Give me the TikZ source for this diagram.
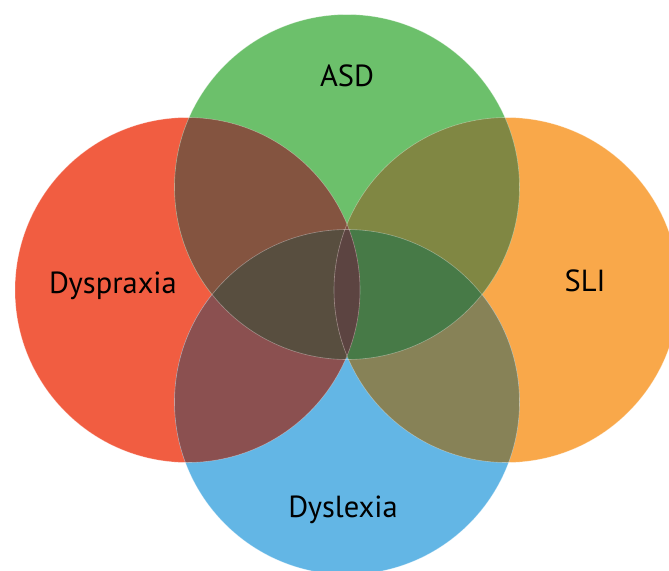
\documentclass[tikz,border=0pt]{standalone}
\usepackage{fontspec}
\setmainfont{PT Sans}
\usetikzlibrary{positioning}

\definecolor{dysred}{HTML}{F15D41}
\definecolor{asdgreen}{HTML}{6CC06B}
\definecolor{sliorange}{HTML}{F9A84A}
\definecolor{dlxblue}{HTML}{63B6E5}
\definecolor{redgreen}{HTML}{845440}
\definecolor{greenorange}{HTML}{808743}
\definecolor{redblue}{HTML}{8B5050}
\definecolor{orangeblue}{HTML}{878257}
\definecolor{redorange}{HTML}{7A4A3C}
\definecolor{redgreenblue}{HTML}{584E3F}
\definecolor{greenorangeblue}{HTML}{477A47}
\definecolor{redgreenorange}{HTML}{7C4B3C}
\definecolor{redorangeblue}{HTML}{7E4A48}
\definecolor{allfour}{HTML}{5C4441}

\begin{document}
\begin{tikzpicture}[x=1pt, y=-1pt,
    ring/.style={draw=white, draw opacity=0.35, line width=0.6pt},
    vname/.style={font=\fontsize{30.5}{32}\selectfont, anchor=base, inner sep=0pt}
]
\useasboundingbox (0,0) rectangle (669,570);
\clip (0,0) rectangle (669,570);

% centres of the four sets
\coordinate (cDys) at (187.5,290);
\coordinate (cSLI) at (506.5,290);
\coordinate (cASD) at (347,187);
\coordinate (cDlx) at (347,402);
\def\rad{172.5pt}

% plain circles
\fill[dysred] (cDys) circle[radius=\rad];
\fill[sliorange] (cSLI) circle[radius=\rad];
\fill[asdgreen] (cASD) circle[radius=\rad];
\fill[dlxblue] (cDlx) circle[radius=\rad];

% two-set overlaps
\begin{scope}
  \clip (cDys) circle[radius=\rad];
  \fill[redgreen] (cASD) circle[radius=\rad];
  \fill[redblue] (cDlx) circle[radius=\rad];
  \fill[redorange] (cSLI) circle[radius=\rad];
\end{scope}
\begin{scope}
  \clip (cSLI) circle[radius=\rad];
  \fill[greenorange] (cASD) circle[radius=\rad];
  \fill[orangeblue] (cDlx) circle[radius=\rad];
\end{scope}

% three-set overlaps
\begin{scope}
  \clip (cASD) circle[radius=\rad];
  \clip (cDlx) circle[radius=\rad];
  \fill[redgreenblue] (cDys) circle[radius=\rad];
  \fill[greenorangeblue] (cSLI) circle[radius=\rad];
\end{scope}
\begin{scope}
  \clip (cDys) circle[radius=\rad];
  \clip (cSLI) circle[radius=\rad];
  \fill[redgreenorange] (cASD) circle[radius=\rad];
  \fill[redorangeblue] (cDlx) circle[radius=\rad];
  % all four
  \clip (cASD) circle[radius=\rad];
  \fill[allfour] (cDlx) circle[radius=\rad];
\end{scope}

% faint edges
\foreach \c in {cDys,cSLI,cASD,cDlx}
  \draw[ring] (\c) circle[radius=\rad];

% set names
\node[vname] (lASD) at (347,86) {ASD};
\node[vname] (lDys) at (113,293) {Dyspraxia};
\node[vname] (lSLI) at (585,291) {SLI};
\node[vname] (lDlx) at (343,517) {Dyslexia};

\end{tikzpicture}
\end{document}
